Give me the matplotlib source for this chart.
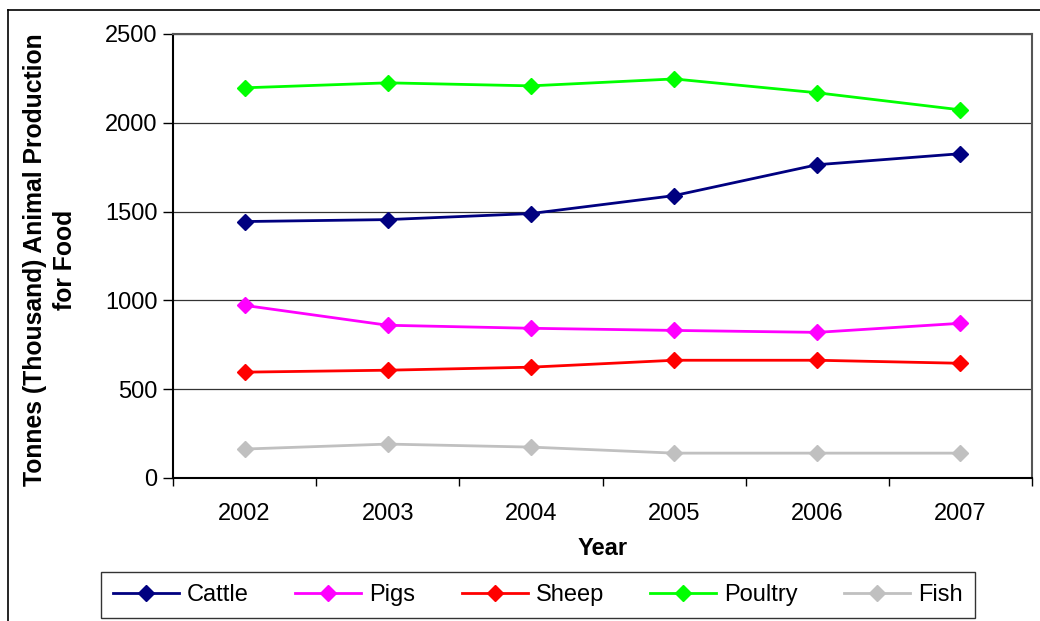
import numpy as np
import matplotlib.pyplot as plt
from matplotlib.lines import Line2D

plt.rcParams['font.family'] = ['Liberation Sans', 'DejaVu Sans']

years = ["2002", "2003", "2004", "2005", "2006", "2007"]
cattle = [1444, 1455, 1489, 1590, 1764, 1826]
pigs = [972, 860, 843, 831, 820, 871]
sheep = [596, 607, 624, 663, 663, 646]
poultry = [2197, 2225, 2208, 2247, 2169, 2073]
fish = [163, 191, 174, 140, 140, 140]

series = [("Cattle", cattle, "#000080"),
          ("Pigs", pigs, "#FF00FF"),
          ("Sheep", sheep, "#FF0000"),
          ("Poultry", poultry, "#00FF00"),
          ("Fish", fish, "#C0C0C0")]

W, H = 1040, 621
fig = plt.figure(figsize=(W / 100, H / 100), dpi=100)
ax = fig.add_axes([173 / W, 1 - 478 / H, (1032 - 173) / W, (478 - 34) / H])

x = np.arange(len(years))
for name, vals, col in series:
    ax.plot(x, vals, color=col, lw=2, marker="D", ms=8.5, label=name)

ax.set_xlim(-0.5, len(years) - 0.5)
ax.set_ylim(0, 2500)
ax.set_yticks(np.arange(0, 2501, 500))
ax.set_xticks(x)
ax.set_xticklabels(years)
ax.set_xticks(np.arange(-0.5, len(years), 1), minor=True)
ax.tick_params(axis="x", which="major", length=0, pad=18, labelsize=17)
ax.tick_params(axis="x", which="minor", length=6, width=1)
ax.tick_params(axis="y", length=7, width=1, labelsize=17, pad=4)
ax.yaxis.grid(True, color="#333333", lw=0.9)
ax.set_axisbelow(True)
for s in ax.spines.values():
    s.set_linewidth(1.5)
ax.spines["right"].set_color("#555555")
ax.spines["top"].set_color("#555555")

ax.set_xlabel("Year", fontsize=17, fontweight="bold")
ax.xaxis.set_label_coords(0.5, (478 - 537) / 444)
ax.set_ylabel("Tonnes (Thousand) Animal Production\nfor Food", fontsize=17.8,
              fontweight="bold", linespacing=1.35, va="center")
ax.yaxis.set_label_coords((50 - 173) / 859, (478 - 260) / 444)

leg = ax.legend(loc="center", bbox_to_anchor=(538 / W, 1 - 595 / H),
                bbox_transform=fig.transFigure, ncol=5, fontsize=17,
                frameon=True, fancybox=False, edgecolor="black",
                handlelength=2.8, handletextpad=0.35, columnspacing=1.95,
                borderpad=0.5)
leg.get_frame().set_linewidth(1)

# outer chart border
fig.add_artist(Line2D([8 / W, 1], [1 - 10 / H, 1 - 10 / H], color="black", lw=1.2))
fig.add_artist(Line2D([8 / W, 8 / W], [0, 1 - 10 / H], color="black", lw=1.2))

plt.savefig("out.png", dpi=100)
